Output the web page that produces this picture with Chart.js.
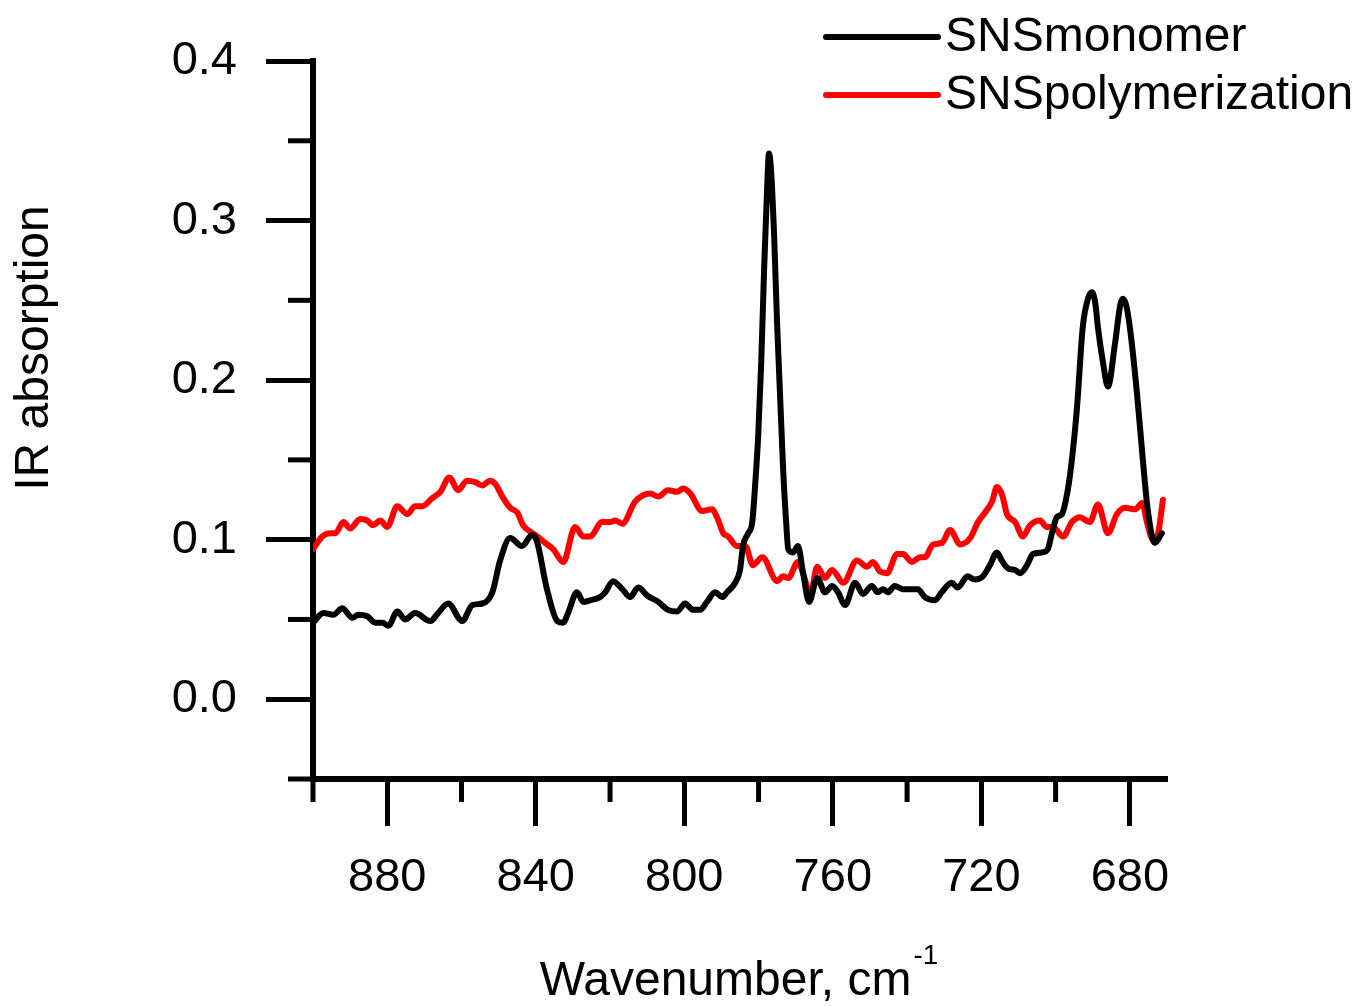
<!DOCTYPE html>
<html>
<head>
<meta charset="utf-8">
<script src="https://cdn.jsdelivr.net/npm/chart.js@4.4.1/dist/chart.umd.min.js"></script>
<style>
  html, body { margin: 0; padding: 0; background: #fff; }
  #box { width: 1361px; height: 1006px; }
</style>
</head>
<body>
<div id="box"><canvas id="irChart" width="1361" height="1006"></canvas></div>
<script>
// wavenumber (cm-1) and absorption
const monomerWn = [900, 897.2, 894.5, 892.1, 889.4, 887.8, 885.4, 883.2, 881.3, 879.7,
  877.3, 875.2, 872.5, 868.4, 866.3, 863.6, 859.8, 857.1, 854.4, 851.7,
  849.6, 846.9, 843.7, 841.0, 839.7, 837.0, 834.2, 832.6, 831.3, 828.9,
  827.2, 825.4, 822.7, 821.3, 819.2, 816.7, 814.6, 812.4, 810.0, 807.0,
  804.4, 801.9, 799.8, 797.6, 795.7, 793.9, 791.7, 789.8, 788.5, 786.3,
  785.0, 784.2, 782.8, 781.7, 780.9, 780.1, 779.3, 778.5, 777.7, 777.2,
  776.6, 775.8, 775.0, 774.2, 773.4, 772.6, 772.0, 770.7, 769.4, 768.0,
  766.4, 764.2, 762.1, 760.2, 758.6, 756.7, 754.0, 751.9, 749.5, 747.9,
  746.5, 745.2, 743.3, 741.2, 737.1, 735.2, 732.5, 730.7, 728.0, 726.4,
  723.7, 721.8, 719.6, 717.7, 715.8, 714.5, 712.8, 710.9, 709.6, 707.7,
  706.1, 703.7, 702.1, 701.0, 699.7, 698.3, 697.3, 696.2, 694.3, 692.7,
  691.3, 690.2, 689.3, 688.6, 687.3, 685.9, 684.0, 682.6, 681.9, 681.0,
  680.0, 678.1, 676.5, 675.2, 673.3, 671.4];
const monomerAbs = [0.048, 0.054, 0.053, 0.057, 0.051, 0.053, 0.052, 0.048, 0.048, 0.046,
  0.055, 0.050, 0.054, 0.049, 0.054, 0.060, 0.049, 0.059, 0.060, 0.067,
  0.087, 0.101, 0.096, 0.103, 0.099, 0.069, 0.049, 0.048, 0.054, 0.067,
  0.061, 0.062, 0.064, 0.067, 0.074, 0.069, 0.064, 0.070, 0.065, 0.061,
  0.056, 0.055, 0.060, 0.056, 0.056, 0.061, 0.067, 0.064, 0.067, 0.073,
  0.081, 0.096, 0.104, 0.111, 0.135, 0.165, 0.210, 0.270, 0.320, 0.342,
  0.330, 0.290, 0.235, 0.190, 0.145, 0.112, 0.094, 0.092, 0.096, 0.079,
  0.061, 0.076, 0.067, 0.071, 0.067, 0.059, 0.073, 0.066, 0.071, 0.067,
  0.069, 0.067, 0.071, 0.069, 0.069, 0.064, 0.062, 0.067, 0.073, 0.070,
  0.077, 0.075, 0.077, 0.084, 0.092, 0.087, 0.082, 0.081, 0.079, 0.084,
  0.091, 0.092, 0.094, 0.104, 0.114, 0.116, 0.124, 0.139, 0.181, 0.233,
  0.251, 0.255, 0.248, 0.233, 0.212, 0.196, 0.223, 0.247, 0.251, 0.247,
  0.233, 0.192, 0.150, 0.119, 0.098, 0.104];

const polymerWn = [900, 897.5, 895.3, 894.0, 891.8, 890.0, 887.3, 885.4, 883.8, 881.9,
  880.0, 877.3, 874.6, 872.5, 870.6, 867.9, 865.7, 863.3, 860.9, 858.5,
  856.3, 854.4, 852.3, 850.9, 849.0, 846.9, 845.0, 843.4, 841.5, 839.6,
  837.5, 835.3, 832.6, 829.4, 827.2, 825.4, 822.1, 820.0, 818.6, 816.7,
  813.2, 809.2, 807.0, 804.4, 801.9, 800.3, 798.4, 795.2, 792.5, 791.2,
  789.5, 788.2, 785.8, 783.6, 781.5, 779.0, 775.0, 773.4, 772.0, 769.4,
  767.5, 766.1, 764.2, 762.1, 760.2, 757.2, 753.5, 750.8, 749.2, 747.3,
  745.4, 742.7, 741.1, 738.7, 736.5, 735.2, 733.0, 730.6, 728.4, 725.7,
  723.0, 720.9, 719.0, 717.1, 715.8, 714.4, 713.1, 710.9, 708.8, 706.9,
  704.2, 702.4, 700.7, 698.0, 695.6, 693.5, 690.8, 688.6, 685.9, 683.5,
  681.3, 678.6, 676.7, 675.4, 673.8, 672.4, 671.1];
const polymerAbs = [0.094, 0.102, 0.104, 0.104, 0.111, 0.107, 0.113, 0.112, 0.109, 0.112,
  0.108, 0.121, 0.116, 0.121, 0.121, 0.126, 0.130, 0.139, 0.131, 0.137,
  0.136, 0.134, 0.137, 0.135, 0.127, 0.120, 0.117, 0.109, 0.105, 0.102,
  0.098, 0.094, 0.086, 0.108, 0.102, 0.102, 0.111, 0.111, 0.112, 0.110,
  0.124, 0.129, 0.127, 0.131, 0.130, 0.132, 0.129, 0.118, 0.119, 0.114,
  0.104, 0.102, 0.096, 0.096, 0.084, 0.089, 0.074, 0.077, 0.076, 0.086,
  0.075, 0.065, 0.083, 0.076, 0.081, 0.073, 0.087, 0.083, 0.086, 0.080,
  0.079, 0.091, 0.091, 0.086, 0.089, 0.089, 0.097, 0.098, 0.106, 0.097,
  0.101, 0.111, 0.117, 0.124, 0.133, 0.128, 0.116, 0.111, 0.102, 0.109,
  0.112, 0.108, 0.108, 0.102, 0.111, 0.114, 0.111, 0.122, 0.104, 0.116,
  0.120, 0.119, 0.123, 0.111, 0.100, 0.104, 0.125];

const xMajorTicks = [880, 840, 800, 760, 720, 680];
const xMinorTicks = [900, 860, 820, 780, 740, 700];
const yMajorTicks = [0.0, 0.1, 0.2, 0.3, 0.4];
const yMinorTicks = [-0.05, 0.05, 0.15, 0.25, 0.35];

const FONT = "'Liberation Sans', Arial, sans-serif";

// short ticks, legend and axis titles
const extrasPlugin = {
  id: 'extras',
  afterDraw(chart) {
    const ctx = chart.ctx;
    const area = chart.chartArea;
    const xs = chart.scales.x;
    const ys = chart.scales.y;
    ctx.save();
    ctx.strokeStyle = '#000';
    ctx.lineWidth = 5;
    xMinorTicks.forEach(v => {
      const px = xs.getPixelForValue(v);
      ctx.beginPath();
      ctx.moveTo(px, area.bottom);
      ctx.lineTo(px, area.bottom + 23);
      ctx.stroke();
    });
    yMinorTicks.forEach(v => {
      const py = ys.getPixelForValue(v);
      ctx.beginPath();
      ctx.moveTo(area.left - 25, py);
      ctx.lineTo(area.left, py);
      ctx.stroke();
    });

    // legend
    ctx.font = '48px ' + FONT;
    ctx.textBaseline = 'middle';
    ctx.textAlign = 'left';
    chart.data.datasets.forEach((ds, i) => {
      const y = 37 + i * 58;
      ctx.strokeStyle = ds.borderColor;
      ctx.lineWidth = 6;
      ctx.lineCap = 'round';
      ctx.beginPath();
      ctx.moveTo(826, y);
      ctx.lineTo(938, y);
      ctx.stroke();
      ctx.fillStyle = '#000';
      ctx.fillText(ds.label, 945, y + 1);
    });

    // y title
    ctx.save();
    ctx.font = '48px ' + FONT;
    ctx.textBaseline = 'alphabetic';
    ctx.textAlign = 'center';
    ctx.translate(48, 348);
    ctx.rotate(-Math.PI / 2);
    ctx.fillText('IR absorption', 0, 0);
    ctx.restore();

    // x title with superscript
    ctx.font = '48px ' + FONT;
    const main = 'Wavenumber, cm';
    const wMain = ctx.measureText(main).width;
    ctx.font = '28px ' + FONT;
    const wSup = ctx.measureText('-1').width;
    const start = (area.left + area.right) / 2 - (wMain + wSup) / 2 - 2;
    ctx.textAlign = 'left';
    ctx.textBaseline = 'alphabetic';
    ctx.font = '48px ' + FONT;
    ctx.fillText(main, start, 995);
    ctx.font = '28px ' + FONT;
    ctx.fillText('-1', start + wMain + 2, 964);
    ctx.restore();
  }
};

new Chart(document.getElementById('irChart'), {
  type: 'line',
  data: {
    datasets: [
      {
        label: 'SNSmonomer',
        data: monomerWn.map((w, i) => ({ x: w, y: monomerAbs[i] })),
        borderColor: '#000000',
        borderWidth: 6,
        pointRadius: 0,
        cubicInterpolationMode: 'monotone',
        borderJoinStyle: 'round',
        borderCapStyle: 'round'
      },
      {
        label: 'SNSpolymerization',
        data: polymerWn.map((w, i) => ({ x: w, y: polymerAbs[i] })),
        borderColor: '#ff0000',
        borderWidth: 6,
        pointRadius: 0,
        cubicInterpolationMode: 'monotone',
        borderJoinStyle: 'round',
        borderCapStyle: 'round'
      }
    ]
  },
  options: {
    responsive: false,
    animation: false,
    devicePixelRatio: 1,
    layout: { padding: { top: 61, right: 194, bottom: 0, left: 0 } },
    plugins: {
      legend: { display: false },
      tooltip: { enabled: false }
    },
    scales: {
      x: {
        type: 'linear',
        reverse: true,
        min: 670,
        max: 900,
        afterBuildTicks: (axis) => { axis.ticks = xMajorTicks.map(v => ({ value: v })); },
        afterFit: (axis) => { axis.height = 227; },
        border: { display: true, color: '#000', width: 6 },
        grid: { drawOnChartArea: false, drawTicks: true, tickLength: 47, tickWidth: 5, tickColor: '#000' },
        ticks: {
          color: '#000',
          font: { size: 47, family: FONT },
          padding: 24,
          maxRotation: 0,
          autoSkip: false
        }
      },
      y: {
        type: 'linear',
        min: -0.05,
        max: 0.4,
        afterBuildTicks: (axis) => { axis.ticks = yMajorTicks.map(v => ({ value: v })); },
        afterFit: (axis) => { axis.width = 313; },
        border: { display: true, color: '#000', width: 6 },
        grid: { drawOnChartArea: false, drawTicks: true, tickLength: 47, tickWidth: 5, tickColor: '#000' },
        ticks: {
          color: '#000',
          font: { size: 47, family: FONT },
          padding: 29,
          autoSkip: false,
          callback: (v) => Number(v).toFixed(1)
        }
      }
    }
  },
  plugins: [extrasPlugin]
});
</script>
</body>
</html>
